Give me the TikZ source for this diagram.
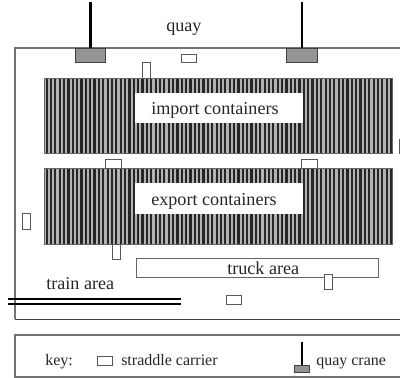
\documentclass[tikz,border=0pt]{standalone}
\usepackage{fontspec}
\setmainfont{Liberation Serif}
\tikzset{
  x=0.75pt,y=-0.75pt,
  frameline/.style={draw=black!55,line width=0.8pt},
  darkline/.style={draw=black!75,line width=0.7pt},
  carrier/.style={draw=black!65,fill=white,line width=0.6pt},
  cranebase/.style={draw=black!75,fill=black!42,line width=0.6pt},
  cranearm/.style={line width=1.9pt,draw=black},
  rail/.style={line width=1.2pt,draw=black},
  label/.style={font=\fontsize{13.6pt}{15pt}\selectfont,text=black!85,inner sep=0pt,anchor=base west},
  keylabel/.style={font=\fontsize{12pt}{14pt}\selectfont,text=black!85,inner sep=0pt,anchor=base west},
}
\newcommand{\stripes}[4]{%
  \fill[black!30] (#1,#2) rectangle (#3,#4);
  \pgfmathsetmacro{\xs}{#1+1.0}
  \pgfmathsetmacro{\xn}{#1+1.0+4.36}
  \foreach \xx in {\xs,\xn,...,#3}{\fill[black!85] (\xx,#2) rectangle ++(2.2,#4-#2);}
  \draw[black!60,line width=0.5pt] (#1,#2) rectangle (#3,#4);
}
\begin{document}
\begin{tikzpicture}
\useasboundingbox (0,0) rectangle (400,378);
\fill[white] (0,0) rectangle (400,378);
% yard and key frames
\draw[frameline] (400,48) -- (15,48) -- (15,319);
\draw[darkline] (15,319) -- (400,319);
\draw[frameline] (400,335) -- (15,335) -- (15,377) -- (400,377);
% stacks
\stripes{44.5}{78}{392.7}{153}
\stripes{44.5}{168.5}{392.7}{244.5}
\fill[white] (135,93) rectangle (302.5,123.5);
\fill[white] (135,183) rectangle (302.5,214);
% quay cranes
\draw[cranearm] (90.5,2) -- (90.5,48);
\draw[cranebase] (75.5,48) rectangle (105.5,62);
\draw[cranearm] (302,2) -- (302,48);
\draw[cranebase] (286.5,48) rectangle (317.5,62);
% truck area
\draw[darkline,draw=black!60] (136,258.5) rectangle (378,277.5);
% straddle carriers
\draw[carrier] (181,54) rectangle (196,62);
\draw[carrier] (142,62) rectangle (150.5,78);
\draw[carrier] (105.5,159.5) rectangle (121,168.5);
\draw[carrier] (301.5,159.5) rectangle (317.5,168.5);
\draw[carrier] (22,213) rectangle (30.5,229);
\draw[carrier] (112,244.5) rectangle (120.5,259);
\draw[carrier] (324,274) rectangle (332,289.5);
\draw[carrier] (226.5,295.5) rectangle (241.5,304.5);
\draw[carrier] (399.4,139) rectangle (405,153);
% rails
\draw[rail] (8,299) -- (181,299);
\draw[rail] (8,304) -- (181,304);
% key symbols
\draw[carrier] (97.5,356) rectangle (112.5,365);
\draw[line width=1.5pt] (301.5,342) -- (301.5,365);
\draw[cranebase] (294,365) rectangle (309.5,372);
% labels
\node[label] (importt) at (151,114) {import containers};
\node[label] (exportt) at (151,205) {export containers};
\node[label] (quay) at (166,32) {quay};
\node[label] (train) at (46,289.5) {train area};
\node[label] (truck) at (227,274) {truck area};
\node[keylabel] (key) at (45,365) {key:};
\node[keylabel] (sc) at (121,365) {straddle carrier};
\node[keylabel] (qc) at (316,365) {quay crane};
\end{tikzpicture}
\end{document}
